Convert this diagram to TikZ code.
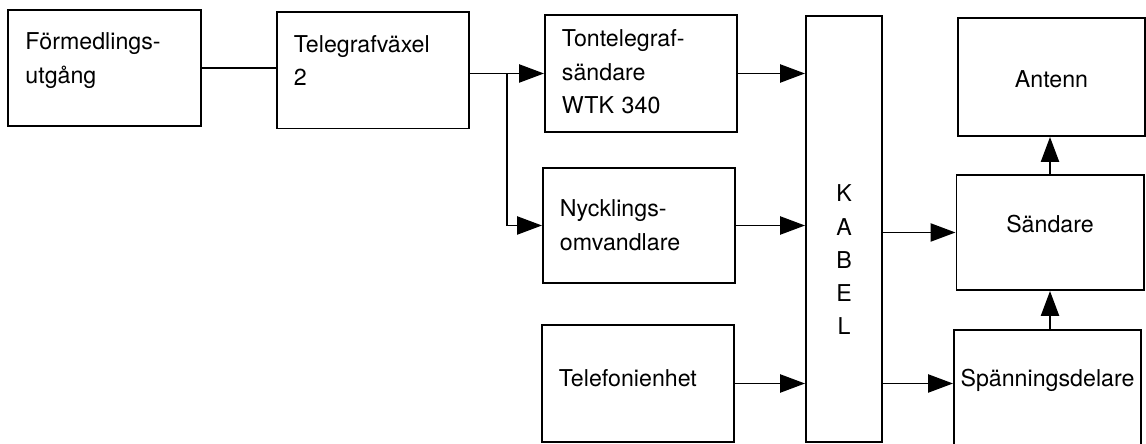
\documentclass[tikz,border=0pt]{standalone}
\usepackage{fontspec}
\setmainfont{TeX Gyre Heros}
\usetikzlibrary{arrows.meta, calc}

\begin{document}
\begin{tikzpicture}[x=0.025cm, y=-0.025cm,
    box/.style={draw, line width=1.4pt, inner ysep=0pt,
      font=\fontsize{16.5pt}{23.5pt}\selectfont},
    lbox/.style={box, text width=3.95cm, inner xsep=0.425cm, align=left},
    cbox/.style={box, minimum width=4.675cm, align=center},
    textlage/.style 2 args={text height=#1, text depth=#2},
    leitung/.style={line width=1.4pt},
    pfeil/.style={leitung, -{Triangle[length=0.62cm, width=0.45cm]}}]

    % 1. Rahmen des Bildes
    \useasboundingbox (0,0) rectangle (1146,444);

    % 2. Bloecke links
    \node[lbox, textlage={1cm}{1.9cm}] (fmu) at (104.5,68) {Förmedlings-\\utgång};
    \node[lbox, textlage={1cm}{1.9cm}] (tgv) at (373,70.5) {Telegrafväxel\\2};
    \node[lbox, textlage={0.8cm}{2.125cm}] (ton) at (641,73.5) {Tontelegraf-\\sändare\\WTK 340};
    \node[lbox, textlage={1.225cm}{1.65cm}] (nyc) at (639,225.5) {Nycklings-\\omvandlare};
    \node[lbox, textlage={1.55cm}{1.375cm}] (tel) at (638,383.5) {Telefonienhet};

    % 3. Kabel und Bloecke rechts
    \node[box, text width=1.9cm, inner xsep=0pt, align=center,
      textlage={4.65cm}{6cm}] (kab) at (844,229) {K\\A\\B\\E\\L};
    \node[cbox, textlage={1.75cm}{1.2cm}] (ant) at (1051.5,77) {Antenn};
    \node[cbox, textlage={1.45cm}{1.425cm}] (snd) at (1050,232.5) {Sändare};
    \node[cbox, textlage={1.425cm}{1.675cm}] (spd) at (1047.5,392) {Spänningsdelare};

    % Abzweigpunkt zwischen Telegrafvaexel und Tontelegraf
    \coordinate (ab) at ($(tgv.east |- ton.west)!0.5!(ton.west)$);

    % 4. Verbindungen
    \draw[leitung] (fmu.east) -- (fmu.east -| tgv.west);
    \draw[pfeil] (tgv.east |- ton.west) -- (ton.west);
    \draw[pfeil] (ab) |- (nyc.west);
    \draw[pfeil] (ton.east) -- (ton.east -| kab.west);
    \draw[pfeil] (nyc.east) -- (nyc.east -| kab.west);
    \draw[pfeil] (tel.east) -- (tel.east -| kab.west);
    \draw[pfeil] (kab.east |- snd.west) -- (snd.west);
    \draw[pfeil] (kab.east |- tel.east) -- (spd.west |- tel.east);
    \draw[pfeil] (snd.north) -- (snd.north |- ant.south);
    \draw[pfeil] (snd.south |- spd.north) -- (snd.south);

\end{tikzpicture}
\end{document}
